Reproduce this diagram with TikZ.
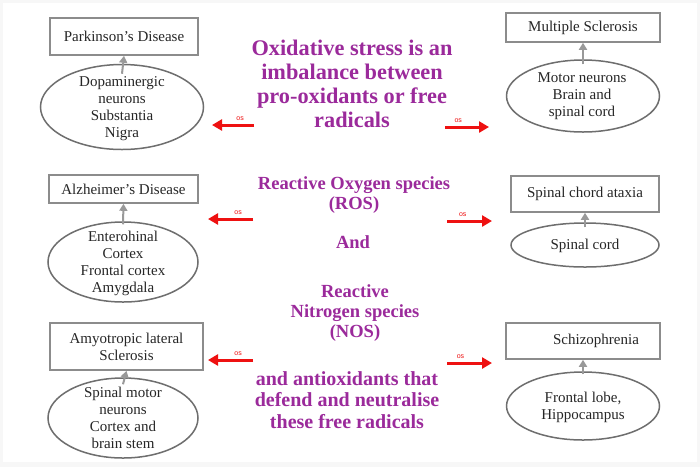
\documentclass[tikz,border=0pt]{standalone}
\usepackage{fontspec}
\setmainfont{Liberation Serif}
\setsansfont{Liberation Sans}
\usetikzlibrary{shapes.geometric,arrows.meta}
\definecolor{purp}{HTML}{9B2A9B}
\definecolor{boxgray}{HTML}{8C8C8C}
\definecolor{ellgray}{HTML}{6E6E6E}
\definecolor{arrgray}{HTML}{999999}
\definecolor{osred}{HTML}{EE1111}
\definecolor{txt}{HTML}{262626}
\begin{document}
\begin{tikzpicture}[x=1pt,y=-1pt,
  dbox/.style={draw=boxgray, line width=1.6pt, inner sep=0pt, font=\fontsize{15}{17}\selectfont, align=center, text=txt},
  ell/.style={ellipse, draw=ellgray, line width=1.5pt, inner sep=0pt},
  etxt/.style={font=\fontsize{15}{17}\selectfont, align=center, text=txt, inner sep=0pt},
  garrow/.style={draw=arrgray, line width=2pt, -{Triangle[length=7pt,width=8pt]}},
  rarrow/.style={draw=osred, line width=3pt, -{Triangle[length=10pt,width=11pt]}},
  oslab/.style={font=\sffamily\fontsize{7}{7}\selectfont, text=osred, inner sep=1pt},
  ptitle/.style={font=\bfseries\fontsize{22.3}{24}\selectfont, text=purp, align=center},
  pmid/.style={font=\bfseries\fontsize{18.5}{20}\selectfont, text=purp, align=center},
  pend/.style={font=\bfseries\fontsize{20}{21.5}\selectfont, text=purp, align=center}]
\fill[gray!6] (0,0) rectangle (700,467);
\fill[white] (3,3) rectangle (697,462);
\useasboundingbox (0,0) rectangle (700,467);

% left column
\node[dbox, minimum width=148pt, minimum height=37pt] (b1) at (124,36.5) {Parkinson’s Disease};
\node[ell, minimum width=163pt, minimum height=85pt] (e1) at (122,107) {};
\node[etxt] (t1) at (122,109) {Dopaminergic\\neurons\\Substantia\\Nigra};

\node[dbox, minimum width=149pt, minimum height=28pt] (b2) at (123.5,189) {Alzheimer’s Disease};
\node[ell, minimum width=150pt, minimum height=80pt] (e2) at (123,262) {};
\node[etxt] (t2) at (123,263) {Enterohinal\\Cortex\\Frontal cortex\\Amygdala};

\node[dbox, minimum width=153pt, minimum height=47pt] (b3) at (126.5,346.5) {Amyotropic lateral\\Sclerosis};
\node[ell, minimum width=150pt, minimum height=80pt] (e3) at (123,418) {};
\node[etxt] (t3) at (123,418) {Spinal motor\\neurons\\Cortex and\\brain stem};

% right column
\node[dbox, minimum width=154pt, minimum height=29pt] (b4) at (583,27.5) {Multiple Sclerosis};
\node[ell, minimum width=153pt, minimum height=72pt] (e4) at (583,96) {};
\node[etxt] (t4) at (582,96) {Motor neurons\\Brain and\\spinal cord};

\node[dbox, minimum width=148pt, minimum height=36pt] (b5) at (585,194) {Spinal chord ataxia};
\node[ell, minimum width=148pt, minimum height=44pt] (e5) at (585,245) {};
\node[etxt] (t5) at (585,246) {Spinal cord};

\node[dbox, minimum width=154pt, minimum height=36pt] (b6) at (583,341) {\hspace*{26pt}Schizophrenia};
\node[ell, minimum width=153pt, minimum height=68pt] (e6) at (583,406) {};
\node[etxt] (t6) at (583,407) {Frontal lobe,\\Hippocampus};

% gray arrows
\draw[garrow] ([yshift=-10pt]e1.north) -- (b1.south);
\draw[garrow] ([yshift=-3pt]e2.north) -- (b2.south);
\draw[garrow] ([yshift=-7pt]e3.north) -- (b3.south);
\draw[garrow] ([yshift=-5pt]e4.north) -- (b4.south);
\draw[garrow] ([yshift=-5pt]e5.north) -- (b5.south);
\draw[garrow] ([yshift=-3pt]e6.north) -- (b6.south);

% central texts
\node[ptitle] (c1) at (352,84) {Oxidative stress is an\\imbalance between\\pro-oxidants or free\\radicals};
\node[pmid] (c2) at (354,195) {Reactive Oxygen species\\(ROS)};
\node[pmid] (c3) at (353,242) {And};
\node[pmid] (c4) at (355,313) {Reactive\\Nitrogen species\\(NOS)};
\node[pend] (c5) at (347,400) {and antioxidants that\\defend and neutralise\\these free radicals};

% red arrows
\coordinate (l1s) at (254,125); \coordinate (l1e) at (212,125);
\coordinate (l2s) at (253,219); \coordinate (l2e) at (208,219);
\coordinate (l3s) at (253,360); \coordinate (l3e) at (208,360);
\coordinate (r1s) at (445,127); \coordinate (r1e) at (489,127);
\coordinate (r2s) at (447,221); \coordinate (r2e) at (492,221);
\coordinate (r3s) at (447,363); \coordinate (r3e) at (492,363);
\draw[rarrow] (l1s) -- node[oslab, pos=0.33, above=1.5pt] (o1) {os} (l1e);
\draw[rarrow] (l2s) -- node[oslab, pos=0.33, above=1.5pt] (o2) {os} (l2e);
\draw[rarrow] (l3s) -- node[oslab, pos=0.33, above=1.5pt] (o3) {os} (l3e);
\draw[rarrow] (r1s) -- node[oslab, pos=0.3, above=1.5pt] (o4) {os} (r1e);
\draw[rarrow] (r2s) -- node[oslab, pos=0.35, above=1.5pt] (o5) {os} (r2e);
\draw[rarrow] (r3s) -- node[oslab, pos=0.3, above=1.5pt] (o6) {os} (r3e);
\end{tikzpicture}
\end{document}
